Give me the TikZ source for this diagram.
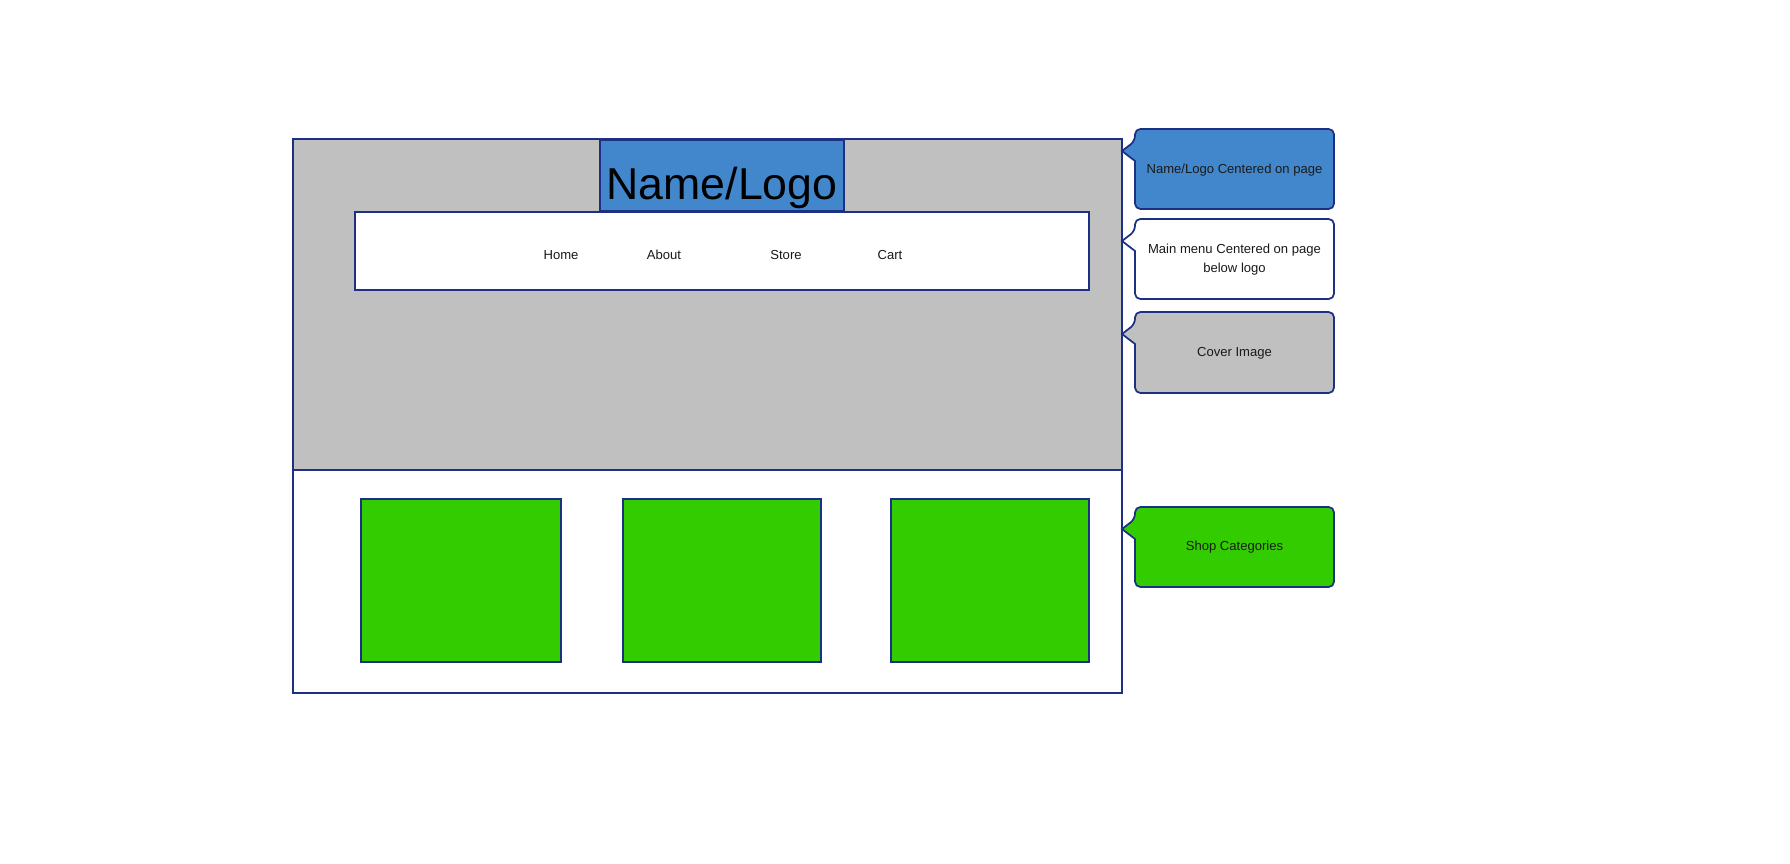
\documentclass[tikz,border=0pt]{standalone}
\usepackage{fontspec}
\setmainfont{Liberation Sans}
\definecolor{navyline}{RGB}{28,48,132}
\definecolor{logoblue}{RGB}{66,135,203}
\definecolor{shopgreen}{RGB}{51,204,0}
\definecolor{covergray}{RGB}{192,192,192}
\definecolor{notetext}{RGB}{26,26,26}
\begin{document}
\begin{tikzpicture}[x=0.75pt,y=0.75pt,yscale=-1,xscale=1,
  box/.style={draw=navyline,line width=1.3pt},
  note/.style={box,rounded corners=4pt},
  menutext/.style={font=\fontsize{9.8}{12}\selectfont,text=notetext,inner sep=0pt,anchor=base},
  notetxt/.style={font=\fontsize{9.8}{14.6}\selectfont,text=notetext,inner sep=0pt,align=center}]
%set diagram size: 1790 x 863
\path[use as bounding box] (0,0) rectangle (1790,863);

%Shape: Rectangle (cover image)
\draw [box,fill=covergray] (293,139) rectangle (1122,470);
%Shape: Rectangle (shop area)
\draw [box,fill=white] (293,470) rectangle (1122,693);
%Shape: Rectangle (logo)
\draw [box,fill=logoblue] (600,140) rectangle (844,211);
%Shape: Rectangle (main menu)
\draw [box,fill=white] (355,212) rectangle (1089,290);
%Shape: Rectangles (categories)
\draw [box,fill=shopgreen] (361,499) rectangle (561,662);
\draw [box,fill=shopgreen] (623,499) rectangle (821,662);
\draw [box,fill=shopgreen] (891,499) rectangle (1089,662);

%Shape: Callouts
\draw [note,fill=logoblue] (1135,161) -- (1135,209) -- (1334,209) -- (1334,129) -- (1135,129) -- (1135,141) [sharp corners] -- (1122,151) -- cycle;
\draw [note,fill=white] (1135,251) -- (1135,299) -- (1334,299) -- (1334,219) -- (1135,219) -- (1135,231) [sharp corners] -- (1122,241) -- cycle;
\draw [note,fill=covergray] (1135,344) -- (1135,393) -- (1334,393) -- (1334,312) -- (1135,312) -- (1135,324) [sharp corners] -- (1122,334) -- cycle;
\draw [note,fill=shopgreen] (1135,539) -- (1135,587) -- (1334,587) -- (1334,507) -- (1135,507) -- (1135,519) [sharp corners] -- (1122,529) -- cycle;

% Text Node
\draw (722,199) node (logo) [inner sep=0pt,anchor=base,font=\fontsize{33.5}{38}\selectfont] {Name/Logo};
% Text Node
\draw (561,259) node (home) [menutext] {Home};
% Text Node
\draw (664,259) node (about) [menutext] {About};
% Text Node
\draw (786,259) node (store) [menutext] {Store};
% Text Node
\draw (890,259) node (cart) [menutext] {Cart};
% Text Node
\draw (1234.5,173) node (logonote) [notetxt,anchor=base] {Name/Logo Centered on page};
% Text Node
\draw (1234.5,259.5) node (menunote) [notetxt] {Main menu Centered on page\\below logo};
% Text Node
\draw (1234.5,356) node (covernote) [notetxt,anchor=base] {Cover Image};
% Text Node
\draw (1234.5,550.5) node (shopnote) [notetxt,anchor=base] {Shop Categories};
\end{tikzpicture}
\end{document}
